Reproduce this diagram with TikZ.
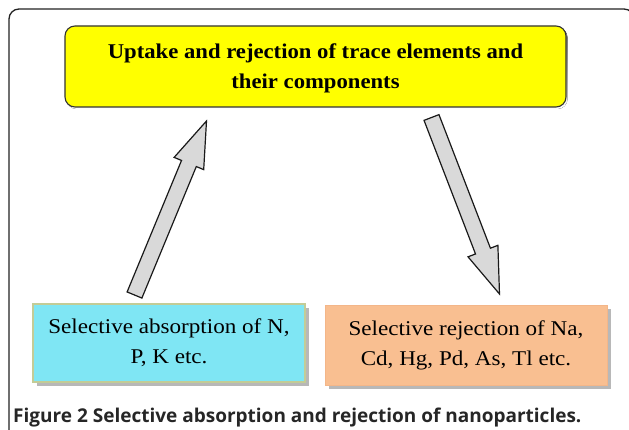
\documentclass[tikz,border=0pt]{standalone}
\usepackage{fontspec}
\setmainfont{Liberation Serif}
\newfontfamily\capfont{Open Sans}
\newfontfamily\topfont{Liberation Serif}[FakeStretch=1.08]
\newfontfamily\boxfont{Liberation Serif}[FakeStretch=1.1]
\usetikzlibrary{calc,shadows}
\definecolor{ybox}{HTML}{FFFF00}
\definecolor{cbox}{HTML}{7FE6F4}
\definecolor{cborder}{HTML}{C3CC96}
\definecolor{obox}{HTML}{F9BF91}
\definecolor{oborder}{HTML}{F3B689}
\definecolor{arrfill}{HTML}{D9D9D9}
\definecolor{shade}{HTML}{9A9A9A}
\definecolor{framecol}{HTML}{222222}
\tikzset{
  frameline/.style={draw=framecol, line width=1.3pt, rounded corners=10pt},
  topbox/.style={draw=black!80, line width=1.1pt, fill=ybox, rounded corners=10pt,
    minimum width=501pt, minimum height=81pt, inner sep=0pt, align=center,
    text height=49pt,
    font=\topfont\bfseries\fontsize{21}{30}\selectfont},
  lowbox/.style={inner sep=0pt, align=center, line width=1.8pt,
    font=\boxfont\fontsize{21}{30}\selectfont,
    drop shadow={shadow xshift=4pt, shadow yshift=-4pt, fill=shade, opacity=0.7}},
  absbox/.style={lowbox, draw=cborder, fill=cbox, minimum width=272pt, minimum height=78pt},
  rejbox/.style={lowbox, draw=oborder, fill=obox, line width=0.8pt, minimum width=282pt, minimum height=80pt},
  blockarrow/.style={draw=black!90, fill=arrfill, line width=1.2pt, line join=miter},
  captext/.style={inner sep=0pt, anchor=base west, font=\capfont\bfseries\fontsize{19}{22}\selectfont, text=black!85}
}
\begin{document}
\begin{tikzpicture}[x=1pt,y=-1pt]
\useasboundingbox (0,0) rectangle (629,430);
\fill[white] (0,0) rectangle (629,430);
\draw[frameline] (9,445) -- (9,9) -- (634,9) -- (634,445);
% top box
\fill[shade, rounded corners=10pt] (66.5,27.5) rectangle (567.5,109);
\node[topbox] (top) at (315.5,66.5) {Uptake and rejection of trace elements and\\their components};
% bottom boxes
\node[absbox] (abs) at (169,343) {Selective absorption of N,\\P, K etc.};
\node[rejbox] (rej) at (466,345) {Selective rejection of Na,\\Cd, Hg, Pd, As, Tl etc.};
% block arrows
\coordinate (up-tail) at (134.5,295);
\coordinate (up-tip) at (206.5,121);
\coordinate (dn-tail) at (431.5,117.5);
\coordinate (dn-tip) at (499.5,294);
\foreach \t/\p in {up-tail/up-tip, dn-tail/dn-tip}{
  \coordinate (\p-h) at ($(\p)!46pt!(\t)$);
  \filldraw[blockarrow]
    ($(\t)!8pt!90:(\p)$) -- ($(\p-h)!8pt!90:(\p)$) -- ($(\p-h)!16pt!90:(\p)$)
    -- (\p) -- ($(\p-h)!16pt!270:(\p)$) -- ($(\p-h)!8pt!270:(\p)$)
    -- ($(\t)!8pt!270:(\p)$) -- cycle;
}
% caption
\node[captext] (cap) at (13,422) {Figure 2 Selective absorption and rejection of nanoparticles.};
\end{tikzpicture}
\end{document}
